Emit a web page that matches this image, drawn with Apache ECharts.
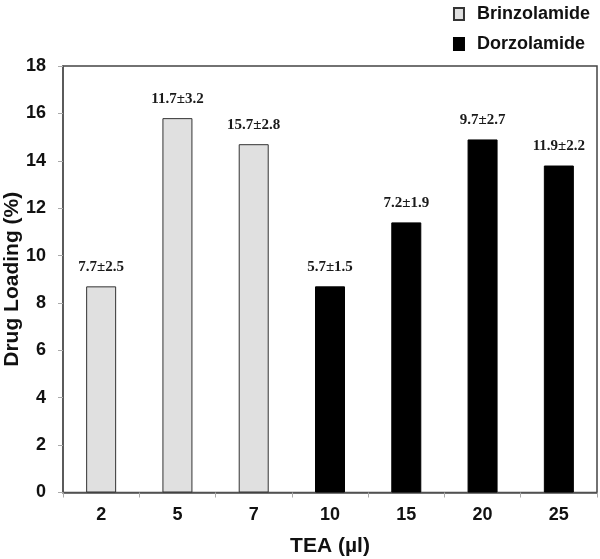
<!DOCTYPE html>
<html><head><meta charset="utf-8">
<script src="https://cdn.jsdelivr.net/npm/echarts@6/dist/echarts.min.js"></script>
<style>html,body{margin:0;padding:0;background:#fff}#c{width:600px;height:559px}</style>
</head><body><div id="c"></div>
<script>
var categories = ['2','5','7','10','15','20','25'];
var brinzolamide = [8.7, 15.8, 14.7, null, null, null, null];
var dorzolamide = [null, null, null, 8.7, 11.4, 14.9, 13.8];
var labelsText = ['7.7±2.5','11.7±3.2','15.7±2.8','5.7±1.5','7.2±1.9','9.7±2.7','11.9±2.2'];
var yTicks = [0,2,4,6,8,10,12,14,16,18];

var chart = echarts.init(document.getElementById('c'));
var lbl = {
  show: true, position: 'top', distance: 12,
  fontFamily: 'Liberation Serif', fontWeight: 'bold', fontSize: 15, color: '#1a1a1a',
  formatter: function(p){ return labelsText[p.dataIndex]; }
};
chart.setOption({
  animation: false,
  legend: {
    orient: 'vertical', right: 5, top: 0, itemWidth: 10, itemHeight: 12, itemGap: 12,
    icon: 'rect',
    textStyle: {fontFamily: 'Liberation Sans', fontWeight: 'bold', fontSize: 18, color: '#111', padding: [0,0,0,8]},
    data: ['Brinzolamide','Dorzolamide']
  },
  grid: {left: 63, right: 3, top: 66, bottom: 66.5, containLabel: false, outerBoundsMode: 'none',
         show: true, borderColor: '#444', borderWidth: 1.5},
  xAxis: {
    type: 'category', data: categories,
    name: 'TEA (µl)', nameLocation: 'middle', nameGap: 43, nameMoveOverlap: false,
    nameTextStyle: {fontFamily: 'Liberation Sans', fontWeight: 'bold', fontSize: 21, color: '#111'},
    axisLine: {lineStyle: {color: '#555', width: 1.5}},
    axisTick: {show: true, length: 5, lineStyle: {color: '#aaa'}},
    axisLabel: {fontFamily: 'Liberation Sans', fontWeight: 'bold', fontSize: 18, color: '#111', margin: 14}
  },
  yAxis: {
    type: 'value', min: 0, max: 18, interval: 2,
    name: 'Drug Loading (%)', nameLocation: 'middle', nameGap: 40, nameMoveOverlap: false,
    nameTextStyle: {fontFamily: 'Liberation Sans', fontWeight: 'bold', fontSize: 21, color: '#111'},
    axisLine: {show: true, lineStyle: {color: '#555', width: 1.5}},
    axisTick: {show: true, length: 5, lineStyle: {color: '#aaa'}},
    splitLine: {show: false},
    axisLabel: {fontFamily: 'Liberation Sans', fontWeight: 'bold', fontSize: 18, color: '#111', margin: 17,
      formatter: function(v){ return yTicks.indexOf(v) >= 0 ? String(v) : ''; }}
  },
  series: [
    {name: 'Brinzolamide', type: 'bar', data: brinzolamide, barWidth: 30, barGap: '-100%',
     itemStyle: {color: '#e0e0e0', borderColor: '#333', borderWidth: 1}, label: lbl},
    {name: 'Dorzolamide', type: 'bar', data: dorzolamide, barWidth: 30,
     itemStyle: {color: '#000', borderColor: '#000', borderWidth: 1}, label: lbl}
  ]
});
</script></body></html>
